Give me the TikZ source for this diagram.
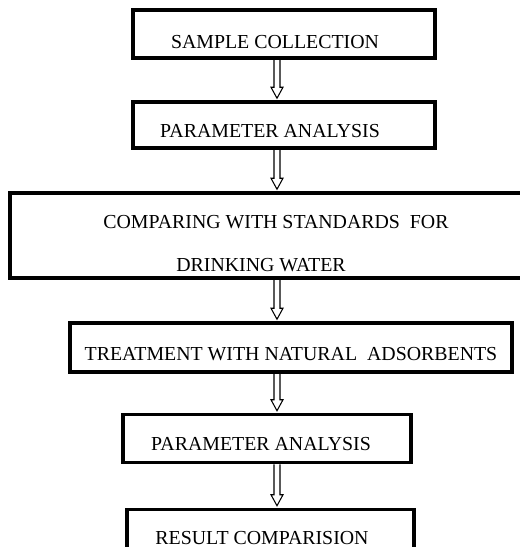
\documentclass[tikz,border=0pt]{standalone}
\usepackage{fontspec}
\setmainfont{Liberation Serif}
\usetikzlibrary{calc}
\newcommand{\stagefont}{\fontsize{11.3}{24.8}\selectfont}
\tikzstyle{stage} = [rectangle, draw=black, line width=2pt, inner sep=0pt, font=\stagefont]
\tikzstyle{hollow} = [line width=0.6pt, draw=black]
\newcommand{\hollowarrow}[2]{%
	\draw[hollow] ($(#1.south -| axis)+(-0.06,0)$) -- ($(#2.north -| axis)+(-0.06,0.26)$)
		-- ++(-0.06,0) -- ($(#2.north -| axis)+(0,0.04)$) -- ++(0.12,0.22) -- ++(-0.06,0)
		-- ($(#1.south -| axis)+(0.06,0)$);}

\begin{document}
\begin{tikzpicture}[node distance=1.82cm]
	\useasboundingbox (0,0) rectangle (10.4,-10.94);
	\coordinate (axis) at (5.54,0);

	\node (collection) [stage, minimum width=6.04cm, minimum height=0.96cm, text height=0.766cm, text depth=0.194cm] at (5.68,-0.68) {SAMPLE COLLECTION\hspace*{0.36cm}};
	\node (analysis) [stage, below of=collection, minimum width=6.04cm, minimum height=0.92cm, text height=0.70cm, text depth=0.22cm] {PARAMETER ANALYSIS\hspace*{0.56cm}};

	\hollowarrow{collection}{analysis}

	\node (comparing) [stage, below of=analysis, yshift=-0.39cm, xshift=-0.32cm, align=center, minimum width=10.32cm, minimum height=1.70cm, text height=1.574cm, text depth=0.12cm] {\hspace*{0.32cm}COMPARING WITH STANDARDS\ \ FOR\\DRINKING WATER\hspace*{0.28cm}};

	\hollowarrow{analysis}{comparing}

	\node (treatment) [stage, below of=comparing, yshift=-0.42cm, xshift=0.46cm, minimum width=8.84cm, minimum height=0.98cm, text height=0.74cm, text depth=0.24cm] {TREATMENT WITH NATURAL\ \ ADSORBENTS};

	\hollowarrow{comparing}{treatment}

	\node (reanalysis) [stage, below of=treatment, xshift=-0.48cm, minimum width=5.76cm, minimum height=0.96cm, text height=0.72cm, text depth=0.24cm] {PARAMETER ANALYSIS\hspace*{0.24cm}};
	\node (result) [stage, below of=reanalysis, yshift=-0.08cm, xshift=0.07cm, minimum width=5.74cm, minimum height=0.96cm, text height=0.70cm, text depth=0.26cm] {RESULT COMPARISION\hspace*{0.34cm}};

	\hollowarrow{treatment}{reanalysis}
	\hollowarrow{reanalysis}{result}
\end{tikzpicture}
\end{document}
